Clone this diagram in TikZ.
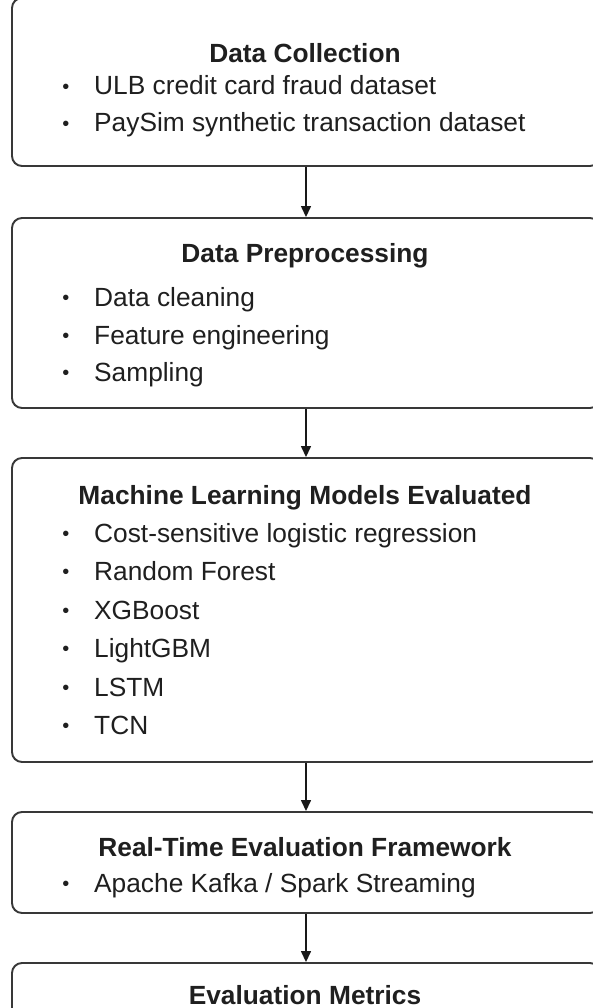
\documentclass[tikz,border=0pt]{standalone}
\usepackage{fontspec}
\setmainfont{Liberation Sans}
\usetikzlibrary{arrows.meta}
\begin{document}
\begin{tikzpicture}[x=1pt,y=-1pt,
  box/.style={draw=black!78, line width=1.9pt, rounded corners=10pt, fill=white,
    minimum width=588pt, inner sep=0pt, anchor=center},
  ttl/.style={font=\bfseries\fontsize{26.3}{30}\selectfont, text=black!88, anchor=base, inner sep=0pt},
  itm/.style={font=\fontsize{26.3}{30}\selectfont, text=black!88, anchor=base west, inner sep=0pt},
  bul/.style={font=\fontsize{20}{24}\selectfont, text=black!88, anchor=base, inner sep=0pt},
  arr/.style={-{Triangle[length=11pt,width=10pt]}, line width=1.4pt, draw=black!90}]
\useasboundingbox[fill=white] (0,0) rectangle (592,1008);
% boxes
\node[box, minimum height=168pt] (b1) at (306,82) {};
\node[box, minimum height=190pt] (b2) at (306,313) {};
\node[box, minimum height=304pt] (b3) at (306,610) {};
\node[box, minimum height=101pt] (b4) at (306,862.5) {};
\node[box, minimum height=67pt] (b5) at (306,996.5) {};
% arrows
\draw[arr] (b1.south) -- (b2.north);
\draw[arr] (b2.south) -- (b3.north);
\draw[arr] (b3.south) -- (b4.north);
\draw[arr] (b4.south) -- (b5.north);
% box 1
\node[ttl] (t1) at (305,63) {Data Collection};
\node[bul] (u11) at (66,93.5) {•};
\node[itm] (i11) at (94,95) {ULB credit card fraud dataset};
\node[bul] (u12) at (66,130.5) {•};
\node[itm] (i12) at (94,132) {PaySim synthetic transaction dataset};
% box 2
\node[ttl] (t2) at (305,262) {Data Preprocessing};
\node[bul] (u21) at (66,304.5) {•};
\node[itm] (i21) at (94,306) {Data cleaning};
\node[bul] (u22) at (66,342.5) {•};
\node[itm] (i22) at (94,344) {Feature engineering};
\node[bul] (u23) at (66,379.5) {•};
\node[itm] (i23) at (94,381) {Sampling};
% box 3
\node[ttl] (t3) at (305,504) {Machine Learning Models Evaluated};
\node[bul] (u31) at (66,540.5) {•};
\node[itm] (i31) at (94,542) {Cost-sensitive logistic regression};
\node[bul] (u32) at (66,578.5) {•};
\node[itm] (i32) at (94,580) {Random Forest};
\node[bul] (u33) at (66,617.5) {•};
\node[itm] (i33) at (94,619) {XGBoost};
\node[bul] (u34) at (66,655.5) {•};
\node[itm] (i34) at (94,657) {LightGBM};
\node[bul] (u35) at (66,694.5) {•};
\node[itm] (i35) at (94,696) {LSTM};
\node[bul] (u36) at (66,732.5) {•};
\node[itm] (i36) at (94,734) {TCN};
% box 4
\node[ttl] (t4) at (305,856) {Real-Time Evaluation Framework};
\node[bul] (u41) at (66,890.5) {•};
\node[itm] (i41) at (94,892) {Apache Kafka / Spark Streaming};
% box 5
\node[ttl] (t5) at (305,1004) {Evaluation Metrics};
\end{tikzpicture}
\end{document}
